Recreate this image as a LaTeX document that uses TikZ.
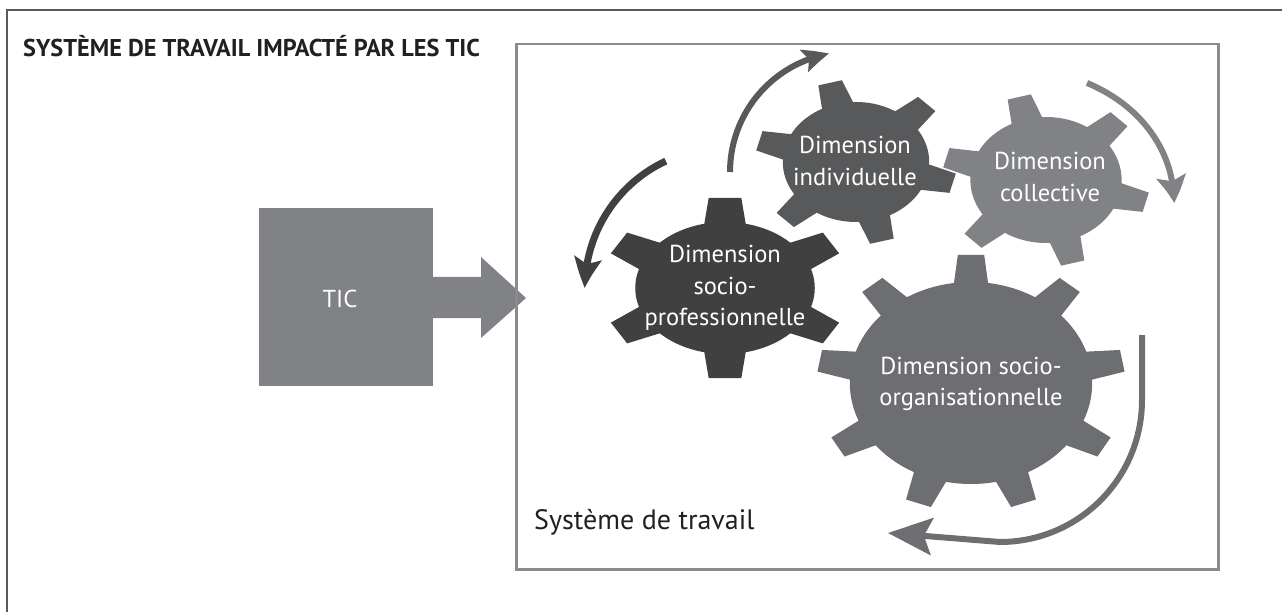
\documentclass[tikz,border=0pt]{standalone}
\usepackage{fontspec}
\setmainfont{PT Sans}
\usetikzlibrary{arrows.meta,bending}
\definecolor{gA}{HTML}{404041}
\definecolor{gB}{HTML}{58595B}
\definecolor{gC}{HTML}{808285}
\definecolor{gD}{HTML}{6D6E71}
\definecolor{frameline}{HTML}{58595B}
\definecolor{boxline}{HTML}{8A8B8E}
\definecolor{txt}{HTML}{231F20}
\newcommand{\titlefont}{\bfseries\fontsize{24.3}{26}\selectfont}
\newcommand{\gearfont}{\fontsize{24.5}{31.5}\selectfont}
\newcommand{\drawgear}[9]{%
  \begin{scope}[shift={(#1,#2)},xscale=#3]
    \fill[#8] (0,0) circle[radius=#4];
    \foreach \k in {1,...,#6}{
      \fill[#8,rotate={#7+360/#6*(\k-1)}] ({#4-8},{-#9-4}) -- (#5,-#9) -- (#5,#9) -- ({#4-8},{#9+4}) -- cycle;
    }
  \end{scope}}
\tikzset{
  gtext/.style={text=white, align=center, font=\gearfont, inner sep=0pt},
  cyc/.style={line width=#1, line cap=butt}
}
\begin{document}
\begin{tikzpicture}[x=1pt,y=-1pt]
\useasboundingbox (0,0) rectangle (1282,612);
% outer frame
\draw[frameline, line width=2pt] (7,613) -- (7,10) -- (1283,10);
% title
\node[anchor=base west, font=\titlefont, text=txt, inner sep=0pt] (title) at (23,57) {SYSTÈME DE TRAVAIL IMPACTÉ PAR LES TIC};
% TIC box and arrow
\node[fill=gC, minimum width=174pt, minimum height=178pt, inner sep=0pt, anchor=north west] (tic) at (259,208) {};
\node[font=\gearfont, text=white, inner sep=0pt] (ticlabel) at (340,299) {TIC};
\fill[gC] (433,277) -- (481,277) -- (481,257) -- (526,298) -- (481,338) -- (481,318) -- (433,318) -- cycle;
% inner box
\node[draw=boxline, line width=2.5pt, minimum width=702pt, minimum height=525pt, inner sep=0pt, anchor=north west] (sys) at (515,43) {};
\node[anchor=base west, font=\fontsize{28}{30}\selectfont, text=txt, inner sep=0pt] (syslabel) at (534,529) {Système de travail};
% gears
\drawgear{856}{162}{1.22}{60}{82}{6}{45}{gB}{10}
\drawgear{1046}{180}{1.2}{63}{86}{6}{45}{gC}{10}
\drawgear{971}{383}{1.2}{101}{128}{9}{90}{gD}{11}
\drawgear{725}{288}{1.36}{66}{90}{6}{30}{gA}{12}
\node[gtext] (g1) at (725,288) {Dimension\\socio-\\professionnelle};
\node[gtext] (g2) at (855,161) {Dimension\\individuelle};
\node[gtext] (g3) at (1050,177) {Dimension\\collective};
\node[gtext] (g4) at (971,384) {Dimension socio-\\organisationnelle};
% cycle arrows
\coordinate (a1s) at (665.8,161.1);
\draw[gA, cyc=7pt, -{Stealth[length=30pt,width=27pt,inset=6pt,bend]}] (a1s) arc[start angle=245, end angle=180, radius=140];
\coordinate (a2s) at (730,172);
\draw[gB, cyc=6pt, -{Stealth[length=26pt,width=23pt,inset=5pt,bend]}] (a2s) arc[start angle=180, end angle=260, radius=120];
\coordinate (a3s) at (1087,83);
\coordinate (a3e) at (1174,203);
\draw[gC, cyc=6pt, -{Stealth[length=27pt,width=29pt,inset=5pt,bend]}] (a3s) .. controls (1140,105) and (1174,150) .. (a3e);
\coordinate (a4s) at (1142,335);
\coordinate (a4e) at (888,533);
\draw[gD, cyc=6pt, -{Stealth[length=44pt,width=37pt,inset=8pt,bend]}] (a4s) -- (1142,400) arc[start angle=0, end angle=90, radius=142] -- (a4e);
\end{tikzpicture}
\end{document}
